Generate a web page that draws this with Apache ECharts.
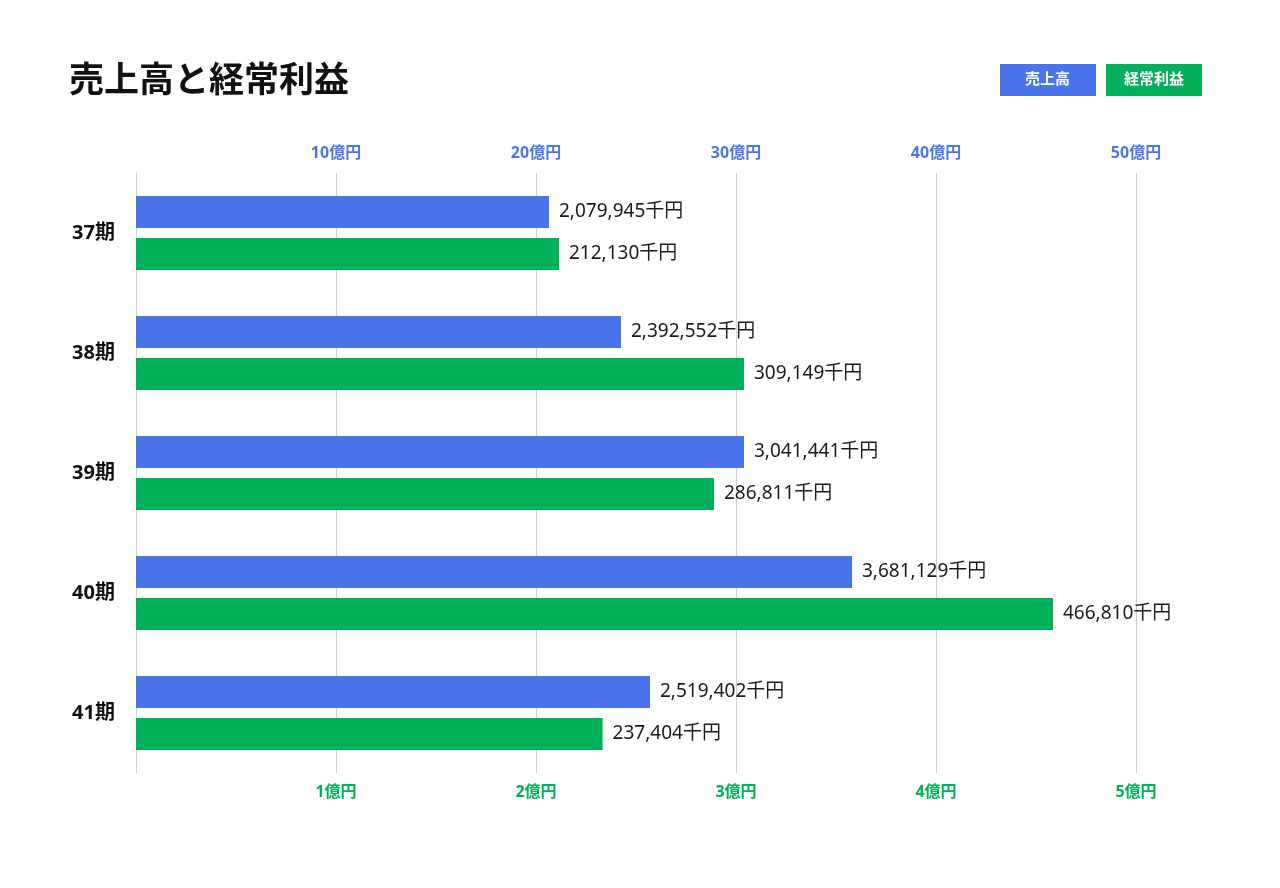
<!DOCTYPE html>
<html lang="ja">
<head>
<meta charset="utf-8">
<title>売上高と経常利益</title>
<script src="https://cdn.jsdelivr.net/npm/echarts@6/dist/echarts.min.js"></script>
<style>
  html, body { margin: 0; padding: 0; background: #fff; }
  #chart { width: 1280px; height: 888px; }
</style>
</head>
<body>
<div id="chart"></div>
<script>
// 期（カテゴリ）
var periods = ['37期', '38期', '39期', '40期', '41期'];
// 売上高（千円）- バーの長さは画像から読み取り
var salesValues = [2065000, 2425000, 3040000, 3580000, 2570000];
var salesLabels = ['2,079,945千円', '2,392,552千円', '3,041,441千円', '3,681,129千円', '2,519,402千円'];
// 経常利益（千円）
var profitValues = [211500, 304000, 289000, 458500, 233300];
var profitLabels = ['212,130千円', '309,149千円', '286,811千円', '466,810千円', '237,404千円'];

var BLUE = '#4a74ec';
var GREEN = '#00b15a';
var FONT = '"Noto Sans", "Noto Sans CJK JP", sans-serif';

var myChart = echarts.init(document.getElementById('chart'));

var option = {
    backgroundColor: '#fff',
    textStyle: { fontFamily: FONT },
    title: {
        text: '売上高と経常利益',
        left: 64,
        top: 60,
        textStyle: { fontSize: 35, fontWeight: 'bold', color: '#111', fontFamily: FONT }
    },
    legend: {
        right: 73,
        top: 59,
        itemGap: 5,
        itemWidth: 0,
        itemHeight: 0,
        selectedMode: false,
        data: [
            { name: '売上高', icon: 'none', textStyle: { backgroundColor: BLUE, color: '#fff', padding: [6, 26, 6, 25], lineHeight: 20, fontSize: 15, fontWeight: 'bold' } },
            { name: '経常利益', icon: 'none', textStyle: { backgroundColor: GREEN, color: '#fff', padding: [6, 18, 6, 18], lineHeight: 20, fontSize: 15, fontWeight: 'bold' } }
        ]
    },
    grid: {
        left: 136,
        right: 144,
        top: 173,
        bottom: 115,
        containLabel: false
    },
    xAxis: [{
        // 売上高の軸（上）
        type: 'value',
        position: 'top',
        min: 0,
        max: 5000000,
        interval: 1000000,
        axisLine: { show: false },
        axisTick: { show: false },
        splitLine: { show: true, lineStyle: { color: '#d0d0d0', width: 1 } },
        axisLabel: {
            margin: 12,
            color: BLUE,
            fontSize: 16,
            fontWeight: 'bold',
            formatter: function (v) {
                return v === 0 ? '' : (v / 100000) + '億円';
            }
        }
    }, {
        // 経常利益の軸（下）
        type: 'value',
        position: 'bottom',
        min: 0,
        max: 500000,
        interval: 100000,
        axisLine: { show: false },
        axisTick: { show: false },
        splitLine: { show: false },
        axisLabel: {
            margin: 11,
            color: GREEN,
            fontSize: 16,
            fontWeight: 'bold',
            formatter: function (v) {
                return v === 0 ? '' : (v / 100000) + '億円';
            }
        }
    }],
    yAxis: {
        type: 'category',
        inverse: true,
        data: periods,
        axisLine: { show: true, lineStyle: { color: '#d0d0d0', width: 1 } },
        axisTick: { show: false },
        axisLabel: {
            margin: 21,
            color: '#111',
            fontSize: 20,
            fontWeight: 'bold'
        }
    },
    series: [{
        name: '売上高',
        type: 'bar',
        xAxisIndex: 0,
        data: salesValues,
        barWidth: 32,
        barGap: '31.25%',
        itemStyle: { color: BLUE },
        label: {
            show: true,
            position: 'right',
            distance: 10,
            color: '#1a1a1a',
            fontSize: 19,
            formatter: function (p) { return salesLabels[p.dataIndex]; }
        }
    }, {
        name: '経常利益',
        type: 'bar',
        xAxisIndex: 1,
        data: profitValues,
        barWidth: 32,
        barGap: '31.25%',
        itemStyle: { color: GREEN },
        label: {
            show: true,
            position: 'right',
            distance: 10,
            color: '#1a1a1a',
            fontSize: 19,
            formatter: function (p) { return profitLabels[p.dataIndex]; }
        }
    }]
};

myChart.setOption(option);
</script>
</body>
</html>
